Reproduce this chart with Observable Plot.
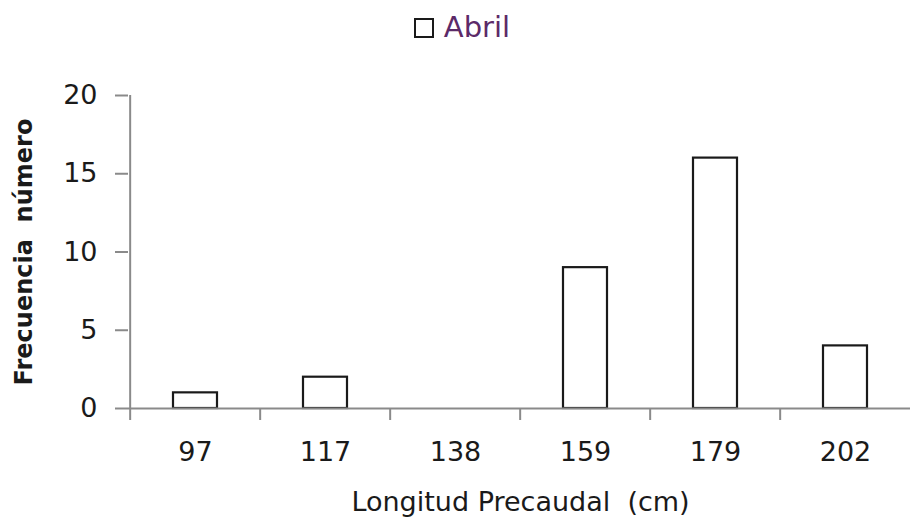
<!DOCTYPE html>
<html>
<head>
<meta charset="utf-8">
<script src="https://cdn.jsdelivr.net/npm/d3@7"></script>
<script src="https://cdn.jsdelivr.net/npm/@observablehq/plot@0.6"></script>
<style>
  body { margin: 0; background: #fff; font-family: "DejaVu Sans", Verdana, sans-serif; }
  #legend { height: 55px; display: flex; align-items: center; justify-content: center; padding-left: 14px; box-sizing: border-box; }
  #legend .swatch { width: 16px; height: 16px; border: 2px solid #1a1a1a; background: #fff; margin-right: 10px; }
  #legend .name { font-size: 29px; color: #5c2a68; line-height: 1; }
  #chart svg text { white-space: pre; }
  #chart g[aria-label="y-axis label"] text { font-weight: bold; font-size: 24px; }
</style>
</head>
<body>
<div id="legend"><div class="swatch"></div><span class="name">Abril</span></div>
<div id="chart"></div>
<script>
// Length classes (cm) and number of fish counted in April
const clases = ["97", "117", "138", "159", "179", "202"];
const frecuencia = [1, 2, 0, 9, 16, 4];
const yTicks = [0, 5, 10, 15, 20];

const data = clases.map((clase, i) => ({clase, n: frecuencia[i]}));

const W = 910, H = 468, mL = 128, mR = -2;
const step = (W - mL - mR) / clases.length; // width of one class slot
const ink = "#1a1a1a";
const axisGray = "#8a8a8a";

const chart = Plot.plot({
  width: W,
  height: H,
  marginTop: 40,
  marginBottom: 115,
  marginLeft: mL,
  marginRight: mR,
  style: {fontFamily: "'DejaVu Sans', Verdana, sans-serif", fontSize: "27px", color: ink, background: "#fff", overflow: "visible"},
  x: {type: "band", domain: clases, paddingInner: 0.66, paddingOuter: 0.33, axis: null},
  y: {domain: [0, 20], axis: null},
  marks: [
    Plot.barY(data, {x: "clase", y: "n", fill: "#fff", stroke: ink, strokeWidth: 2.2}),
    // vertical axis line along the left edge of the first class
    Plot.ruleX([clases[0]], {y1: 0, y2: 20, dx: -step / 2, stroke: axisGray, strokeWidth: 2}),
    Plot.ruleY([0], {stroke: axisGray, strokeWidth: 2}),
    Plot.axisY(yTicks, {
      tickSize: 13, tickPadding: 18, stroke: axisGray, strokeWidth: 2, fill: ink,
      label: "Frecuencia  número", labelAnchor: "center", labelArrow: "none", labelOffset: 114
    }),
    // class boundary ticks
    Plot.axisX({tickSize: 12, tickFormat: () => "", dx: -step / 2, stroke: axisGray, strokeWidth: 2, label: null}),
    Plot.axisX({
      tickSize: 0, tickPadding: 33, fill: ink,
      label: "Longitud Precaudal  (cm)", labelAnchor: "center", labelArrow: "none", labelOffset: 102
    })
  ]
});
document.getElementById("chart").append(chart);
</script>
</body>
</html>
